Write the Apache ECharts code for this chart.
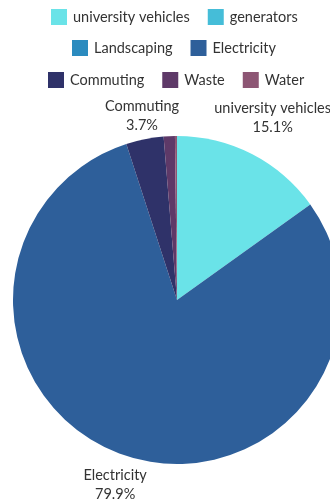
<!DOCTYPE html>
<html>
<head>
<meta charset="utf-8">
<script src="https://cdn.jsdelivr.net/npm/echarts@6/dist/echarts.min.js"></script>
<style>html,body{margin:0;padding:0;background:#fff}#c{width:330px;height:499px}</style>
</head>
<body>
<div id="c"></div>
<script>
const categories = ['university vehicles', 'generators', 'Landscaping', 'Electricity', 'Commuting', 'Waste', 'Water'];
const values = [15.1, 0, 0, 79.9, 3.7, 1.1, 0.2];
const colors = ['#6ae3e8', '#45bdd8', '#2b8bbf', '#2e5f9a', '#2f3269', '#5e3968', '#8d5674'];
const labelled = ['university vehicles', 'Electricity', 'Commuting'];
const legendRows = [['university vehicles', 'generators'], ['Landscaping', 'Electricity'], ['Commuting', 'Waste', 'Water']];

const FONT = 'Lato';
const labelLen = {'university vehicles': 41, 'Electricity': 31, 'Commuting': 24};
const labelShift = {'university vehicles': -3, 'Electricity': 4, 'Commuting': 7};
const chart = echarts.init(document.getElementById('c'), null, {renderer: 'canvas'});
const legendTops = [9, 40, 72];
const legendLefts = [51, 72, 48];
const legends = legendRows.map((row, i) => ({
  data: row,
  top: legendTops[i],
  left: legendLefts[i],
  padding: 0,
  orient: 'horizontal',
  icon: 'rect',
  itemWidth: 16,
  itemHeight: 16,
  itemGap: 18,
  selectedMode: false,
  textStyle: {color: '#333', fontSize: 14.5, fontFamily: FONT, padding: [0, 0, 0, 1]}
}));
chart.setOption({
  animation: false,
  color: colors,
  legend: legends,
  series: [{
    type: 'pie',
    center: [177, 300],
    radius: [0, 164],
    startAngle: 90,
    clockwise: true,
    avoidLabelOverlap: false,
    label: {
      show: true,
      position: 'outside',
      formatter: '{b}\n{d}%',
      color: '#333',
      fontSize: 14.5,
      lineHeight: 19,
      fontFamily: FONT
    },
    labelLine: {show: false, length: 34, length2: 0},
    labelLayout: function (p) {
      const name = categories[p.dataIndex];
      return {align: 'center', verticalAlign: 'middle', dx: labelShift[name] || 0};
    },
    data: categories.map((name, i) => ({
      name: name,
      value: values[i],
      label: {show: labelled.indexOf(name) >= 0},
      labelLine: {show: false, length: labelLen[name] || 30, length2: 0}
    }))
  }]
});
</script>
</body>
</html>
